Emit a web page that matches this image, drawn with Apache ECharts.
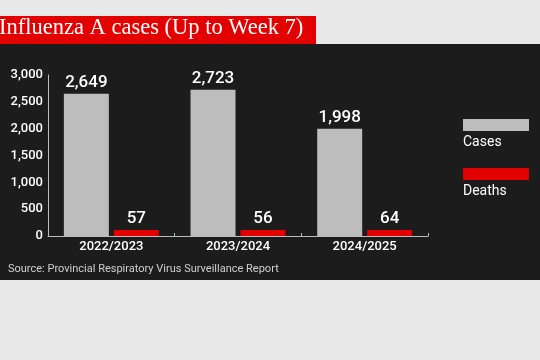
<!DOCTYPE html>
<html><head><meta charset="utf-8">
<script src="https://cdn.jsdelivr.net/npm/echarts@6/dist/echarts.min.js"></script>
<style>html,body{margin:0;padding:0;background:#e8e8e8;}#c{width:540px;height:360px;}</style>
</head><body><div id="c"></div>
<script>
const categories = ['2022/2023', '2023/2024', '2024/2025'];
const cases = [2649, 2723, 1998];
const deaths = [57, 56, 64];
const seriesNames = ['Cases', 'Deaths'];
const yTicks = [0, 500, 1000, 1500, 2000, 2500, 3000];
const titleText = 'Influenza A cases (Up to Week 7)';
const sourceText = 'Source: Provincial Respiratory Virus Surveillance Report';

const chart = echarts.init(document.getElementById('c'), null, {renderer: 'canvas'});
const fmt = v => v.toLocaleString('en-US');
const labelStyle = {show: true, position: 'top', distance: 3, color: '#ffffff', fontFamily: 'Roboto', fontWeight: 500, fontSize: 17, formatter: p => fmt(p.value)};
chart.setOption({
  backgroundColor: '#e8e8e8',
  animation: false,
  graphic: [
    {type: 'rect', z: 0, shape: {x: 0, y: 44, width: 540, height: 236}, style: {fill: '#1c1c1c'}},
    {type: 'rect', z: 1, shape: {x: 0, y: 16, width: 316, height: 28}, style: {fill: '#e30000'}},
    {type: 'text', z: 2, left: -1, top: 17, style: {text: titleText, fill: '#ffffff', font: '22.5px "Liberation Serif", "DejaVu Serif", serif'}},
    {type: 'text', z: 2, left: 8, top: 264, style: {text: sourceText, fill: '#cfcfcf', font: '11px Roboto'}},
    {type: 'rect', z: 2, shape: {x: 463, y: 119, width: 66, height: 12}, style: {fill: '#bdbdbd'}},
    {type: 'text', z: 2, left: 463, top: 135, style: {text: seriesNames[0], fill: '#ffffff', font: '14px Roboto'}},
    {type: 'rect', z: 2, shape: {x: 463, y: 168, width: 66, height: 12}, style: {fill: '#e30000'}},
    {type: 'text', z: 2, left: 463, top: 184, style: {text: seriesNames[1], fill: '#ffffff', font: '14px Roboto'}}
  ],
  grid: {left: 48, right: 112, top: 75, bottom: 124, containLabel: false},
  xAxis: {
    type: 'category', data: categories,
    axisLine: {lineStyle: {color: '#bdbdbd', width: 1}},
    axisTick: {show: true, inside: true, length: 3, lineStyle: {color: '#bdbdbd'}},
    axisLabel: {color: '#ffffff', fontFamily: 'Roboto', fontWeight: 500, fontSize: 13, margin: 4}
  },
  yAxis: {
    type: 'value', min: yTicks[0], max: yTicks[yTicks.length - 1], interval: 500,
    splitLine: {show: false},
    axisLine: {show: true, lineStyle: {color: '#bdbdbd', width: 1}},
    axisTick: {show: false},
    axisLabel: {color: '#ffffff', fontFamily: 'Roboto', fontWeight: 500, fontSize: 13, margin: 5, formatter: v => fmt(v)}
  },
  series: [
    {name: seriesNames[0], type: 'bar', data: cases, barWidth: 45, barGap: '11%', itemStyle: {color: '#bdbdbd'}, label: labelStyle},
    {name: seriesNames[1], type: 'bar', data: deaths, barWidth: 45, barMinHeight: 6, itemStyle: {color: '#e30000'}, label: labelStyle}
  ]
});
</script></body></html>
